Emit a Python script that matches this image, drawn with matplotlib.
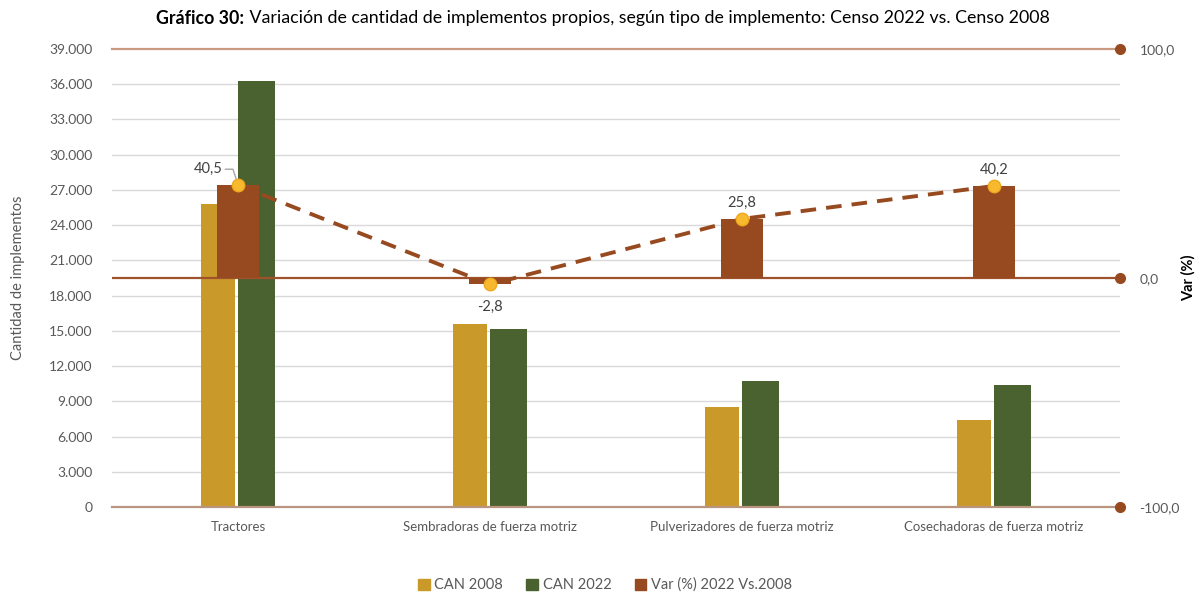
import matplotlib
matplotlib.use("Agg")
import matplotlib.pyplot as plt
from matplotlib.patches import Patch
from matplotlib.ticker import FuncFormatter
import numpy as np

categories = ["Tractores", "Sembradoras de fuerza motriz",
              "Pulverizadores de fuerza motriz", "Cosechadoras de fuerza motriz"]
can_2008 = [25800, 15590, 8520, 7410]
can_2022 = [36250, 15160, 10720, 10390]
var_pct = [40.5, -2.8, 25.8, 40.2]
var_labels = ["40,5", "-2,8", "25,8", "40,2"]
left_ticks = list(range(0, 39001, 3000))
right_ticks = [-100, 0, 100]

C08 = "#C9992A"
C22 = "#4A6130"
CVAR = "#974A1F"
GRAY = "#595959"
FONT = ["Lato", "DejaVu Sans"]
plt.rcParams['font.family'] = FONT

fig = plt.figure(figsize=(12, 5.96), dpi=100)
ax = fig.add_axes([112/1200, 1-507/596, 1008/1200, 458/596])
ax2 = ax.twinx()
ax.set_zorder(1)
ax2.set_zorder(2)
ax.patch.set_visible(False)

x = np.arange(len(categories))
ax.set_xlim(-0.5, len(categories)-0.5)
ax.set_ylim(0, 39000)
ax2.set_ylim(-100, 100)

for t in left_ticks[1:-1]:
    ax.axhline(t, color="#D9D9D9", lw=1, zorder=0)

ax.bar(x - 0.079, can_2008, width=0.135, color=C08, zorder=2)
ax.bar(x + 0.073, can_2022, width=0.147, color=C22, zorder=2)

# right axis reference lines
ax2.axhline(100, color="#C99A80", lw=1.6, zorder=1, clip_on=False)
ax2.axhline(-100, color="#B99580", lw=1.6, zorder=1, clip_on=False)
ax2.axhline(0, color="#A0522D", lw=1.6, zorder=1)
ax2.plot([len(categories)-0.5]*3, right_ticks, 'o', color=CVAR, ms=7,
         clip_on=False, zorder=5)

ax2.bar(x, var_pct, width=0.167, color=CVAR, zorder=3)
ax2.plot(x, var_pct, ls=(0, (4, 2.6)), color=CVAR, lw=2.8, zorder=4)
ax2.plot(x, var_pct, 'o', ms=9, color="#F7B92E", mec="#EFA81E", mew=1, zorder=6)

# data labels
offsets = [(-0.12, 7), (0, -10), (0, 7), (0, 7)]
for i, (v, lab) in enumerate(zip(var_pct, var_labels)):
    dx, dy = offsets[i]
    ax2.text(x[i] + dx, v + dy, lab, ha='center', va='center', fontsize=10.5,
             color="#404040", zorder=7)
# leader line for first label
ax2.plot([x[0]-0.05, x[0]-0.02, x[0]-0.005], [var_pct[0]+7, var_pct[0]+7, var_pct[0]+2],
         color="#A6A6A6", lw=1, zorder=5)

ax.set_yticks(left_ticks)
ax.yaxis.set_major_formatter(FuncFormatter(lambda v, p: f"{int(v):,}".replace(",", ".")))
ax2.set_yticks(right_ticks)
ax2.yaxis.set_major_formatter(FuncFormatter(lambda v, p: f"{v:.1f}".replace(".", ",")))
ax.set_xticks(x)
ax.set_xticklabels(categories)

for a in (ax, ax2):
    for s in a.spines.values():
        s.set_visible(False)
ax.tick_params(axis='y', length=0, pad=14, labelsize=10, labelcolor=GRAY)
ax.tick_params(axis='x', length=0, pad=10, labelsize=9.5, labelcolor=GRAY)
ax2.tick_params(axis='y', length=0, pad=14, labelsize=10, labelcolor=GRAY)

fig.text(18/1200, 1-278/596, "Cantidad de implementos", rotation=90, ha='center', va='center',
         fontsize=10.5, color=GRAY)
fig.text(1188/1200, 1-278/596, "Var (%)", rotation=90, ha='center', va='center',
         fontsize=10.5, color="black", fontweight='bold')

# title: bold part + normal part
fig.canvas.draw()
r = fig.canvas.get_renderer()
t1 = fig.text(0, 1-18/596, "Gráfico 30:", fontsize=12.8, fontweight='bold', va='center', ha='left')
t2 = fig.text(0, 1-18/596, " Variación de cantidad de implementos propios, según tipo de implemento: Censo 2022 vs. Censo 2008",
              fontsize=12.8, va='center', ha='left')
w1 = t1.get_window_extent(r).width
w2 = t2.get_window_extent(r).width
start = (603 - (w1 + w2) / 2)
t1.set_x(start / 1200)
t2.set_x((start + w1) / 1200)

handles = [Patch(color=C08, label="CAN 2008"), Patch(color=C22, label="CAN 2022"),
           Patch(color=CVAR, label="Var (%) 2022 Vs.2008")]
leg = fig.legend(handles=handles, loc='center', bbox_to_anchor=(605/1200, 1-585/596), ncol=3,
                 frameon=False, fontsize=10.5, handlelength=0.8, handleheight=0.8,
                 handletextpad=0.3, columnspacing=1.6)
for t in leg.get_texts():
    t.set_color(GRAY)

fig.savefig("out.png", dpi=100)
